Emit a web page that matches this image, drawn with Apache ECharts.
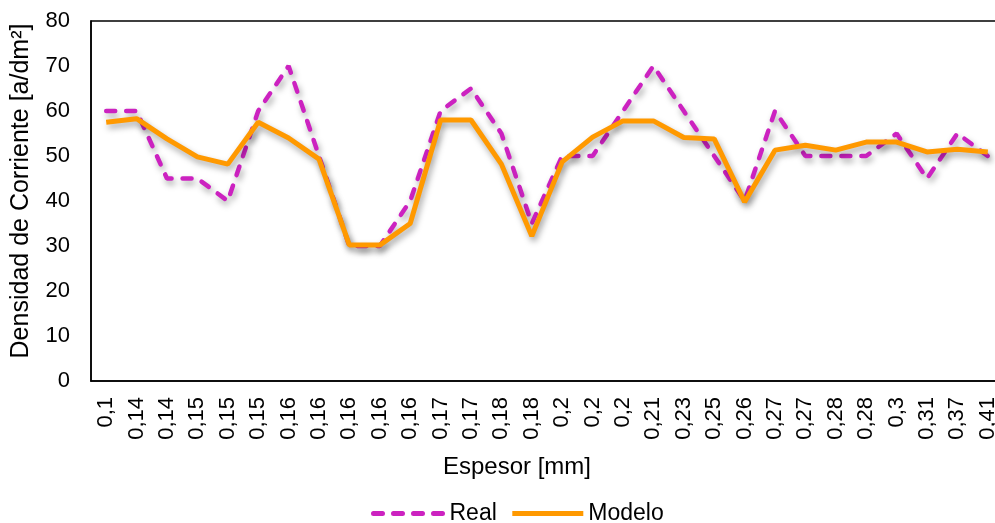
<!DOCTYPE html>
<html><head><meta charset="utf-8">
<script src="https://cdn.jsdelivr.net/npm/echarts@6/dist/echarts.min.js"></script>
<style>html,body{margin:0;padding:0;background:#fff}#c{width:995px;height:523px}</style>
</head><body><div id="c"></div>
<script>
var categories = ['0,1','0,14','0,14','0,15','0,15','0,15','0,16','0,16','0,16','0,16','0,16','0,17','0,17','0,18','0,18','0,2','0,2','0,2','0,21','0,23','0,25','0,26','0,27','0,27','0,28','0,28','0,3','0,31','0,37','0,41'];
var realValues = [60,60,45,45,40,60,70,50,30,30,40,60,65,55,35,50,50,60,70,60,50,40,60,50,50,50,55,45,55,50];
var modeloValues = [57.5,58.3,53.8,49.8,48.2,57.5,54,49.3,30.2,30.2,35,58,58,48.2,32.2,48.7,54.2,57.8,57.8,54.1,53.8,39.8,51.3,52.4,51.3,53.1,53.1,50.9,51.5,50.9];
var yTicks = {min:0, max:80, interval:10};

var font = 'Liberation Sans, Arial, sans-serif';
var chart = echarts.init(document.getElementById('c'), null, {renderer:'canvas'});
var shadow = {shadowColor:'rgba(0,0,0,0.35)', shadowBlur:6, shadowOffsetX:2, shadowOffsetY:4};
chart.setOption({
  animation:false,
  grid:{left:91, top:21, width:912, height:360, show:true, borderColor:'#000', borderWidth:1.5,
    backgroundColor:'#fff', containLabel:false, outerBoundsMode:'none'},
  xAxis:{type:'category', data:categories, boundaryGap:true,
    name:'Espesor [mm]', nameLocation:'middle', nameGap:74,
    nameTextStyle:{fontFamily:font, fontSize:24, color:'#000', padding:[0,60,0,0]},
    axisLine:{show:true, lineStyle:{color:'#000', width:1.5}}, axisTick:{show:false},
    axisLabel:{interval:0, rotate:90, fontFamily:font, fontSize:22, color:'#000', margin:16}},
  yAxis:{type:'value', min:yTicks.min, max:yTicks.max, interval:yTicks.interval,
    name:'Densidad de Corriente [a/dm²]', nameLocation:'middle', nameGap:57,
    nameTextStyle:{fontFamily:font, fontSize:25, color:'#000', padding:[0,0,0,20]},
    axisLine:{show:true, lineStyle:{color:'#000', width:1.5}}, axisTick:{show:false}, splitLine:{show:false},
    axisLabel:{fontFamily:font, fontSize:22, color:'#000', margin:21}},
  legend:{top:497, left:366, itemWidth:71, itemHeight:12, itemGap:13,
    textStyle:{fontFamily:font, fontSize:23, color:'#000'},
    itemStyle:{opacity:0},
    lineStyle:{width:5},
    data:['Real','Modelo']},
  series:[
    {name:'Real', type:'line', data:realValues, symbol:'none', z:2,
      lineStyle:Object.assign({color:'#CC22C0', width:4.5, type:[9,11], cap:'round'}, shadow),
      itemStyle:{color:'#CC22C0'}},
    {name:'Modelo', type:'line', data:modeloValues, symbol:'none', z:3,
      lineStyle:Object.assign({color:'#FF9900', width:5}, shadow),
      itemStyle:{color:'#FF9900'}}
  ]
});
</script></body></html>
